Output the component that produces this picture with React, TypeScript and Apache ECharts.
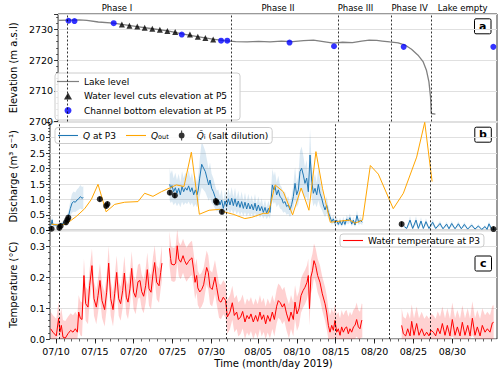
import React, { useEffect, useRef } from "react";
import * as echarts from "echarts";

const FONT = "DejaVu Sans";

// x values are days counted from 30 June 2019 (07/10 = 10, 08/05 = 36)
const X_MIN = 9.23;
const X_MAX = 66.75;
const TICK_DAYS = [10, 15, 20, 25, 30, 36, 41, 46, 51, 56, 61];
const TICK_LABELS = ["07/10", "07/15", "07/20", "07/25", "07/30", "08/05", "08/10", "08/15", "08/20", "08/25", "08/30"];
const MINOR_DAYS = Array.from({ length: 57 }, (_, i) => 10 + i);

const PHASE_BOUNDS = [10.42, 31.97, 46.0, 52.9, 58.17];
const PHASE_NAMES = ["Phase I", "Phase II", "Phase III", "Phase IV", "Lake empty"];
const PHASE_LABEL_X = [16.95, 38.05, 48.2, 55.3, 62.25];

// Panel a
const LAKE_LEVEL = [[9.23, 2732.9], [10.5, 2733.0], [12.0, 2733.1], [13.0, 2732.9], [14.5, 2732.4], [16.5, 2732.0], [17.6, 2731.6], [19.6, 2730.9], [21.6, 2730.2], [23.6, 2729.5], [25.5, 2728.5], [27.5, 2727.6], [29.5, 2726.8], [31.0, 2726.3], [32.5, 2726.0], [34.0, 2725.9], [35.5, 2726.1], [37.0, 2725.9], [38.5, 2726.2], [40.0, 2726.0], [41.4, 2726.3], [42.7, 2726.5], [44.0, 2726.0], [45.3, 2725.5], [46.5, 2725.8], [47.8, 2725.7], [49.0, 2726.2], [50.0, 2726.5], [51.0, 2726.4], [51.7, 2726.2], [52.7, 2725.9], [53.8, 2725.6], [54.7, 2724.9], [55.55, 2723.5], [56.4, 2721.6], [57.06, 2719.5], [57.5, 2716.7], [57.83, 2712.9], [58.04, 2708.0], [58.13, 2702.6], [58.68, 2702.4]];
const WATER_CUTS = [[17.59, 2731.6], [18.58, 2731.2], [19.61, 2730.9], [20.58, 2730.5], [21.58, 2730.2], [22.57, 2729.9], [23.55, 2729.5], [24.58, 2729.1], [26.51, 2728.3], [27.54, 2727.6], [28.53, 2727.2], [29.56, 2726.7]];
const CHANNEL_BOTTOM = [[10.6, 2732.8], [11.38, 2732.7], [16.52, 2732.0], [25.44, 2728.3], [30.59, 2726.3], [31.4, 2726.3], [39.56, 2725.7], [45.39, 2724.5], [54.52, 2724.3], [66.27, 2724.3]];

// Panel b
const Q_P3_1 = [[9.23, 0.18], [9.4, 0.19], [9.5, 0.34], [9.6, 0.18], [10.0, 0.17], [10.47, 0.17], [10.9, 0.22], [11.33, 0.31], [11.63, 0.48], [11.85, 0.71], [12.06, 0.88], [12.27, 0.93], [12.49, 0.91], [12.7, 0.98], [12.92, 1.02], [13.13, 1.09], [13.35, 1.04], [13.52, 1.06]];
const Q_P3_2 = [[24.63, 1.49], [24.76, 1.36], [24.93, 1.45], [25.14, 1.25], [25.36, 1.38], [25.57, 1.2], [25.79, 1.36], [26.0, 1.15], [26.22, 1.42], [26.43, 1.25], [26.65, 1.38], [26.86, 1.3], [27.07, 1.44], [27.29, 1.25], [27.5, 1.38], [27.72, 1.15], [27.93, 1.31], [28.15, 1.15], [28.3, 1.3], [28.49, 1.69], [28.75, 2.14], [29.0, 2.01], [29.22, 1.9], [29.43, 1.69], [29.65, 1.47], [29.82, 1.63], [30.03, 1.36], [30.25, 1.25], [30.46, 1.09], [30.68, 0.95], [30.89, 0.98], [31.1, 0.82], [31.32, 0.98], [31.53, 0.71], [31.75, 0.95], [31.96, 0.77], [32.18, 1.02], [32.39, 0.82], [32.61, 1.04], [32.82, 0.8], [33.04, 1.02], [33.25, 0.77], [33.46, 0.95], [33.68, 0.74], [33.89, 0.93], [34.11, 0.71], [34.32, 0.91], [34.54, 0.69], [34.75, 0.88], [34.97, 0.69], [35.18, 0.84], [35.39, 0.66], [35.61, 0.88], [35.82, 0.63], [36.04, 0.82], [36.25, 0.63], [36.47, 0.77], [36.68, 0.58], [36.9, 0.74], [37.11, 0.55], [37.33, 0.71], [37.54, 0.58], [37.84, 1.47], [38.05, 1.31], [38.18, 1.42], [38.4, 1.15], [38.61, 1.31], [38.83, 1.09], [39.04, 1.04], [39.25, 0.88], [39.47, 0.93], [39.68, 0.77], [39.9, 0.82], [40.11, 0.66], [40.33, 0.84], [40.54, 1.09], [40.76, 1.52], [40.97, 1.15], [41.19, 1.31], [41.4, 1.9], [41.61, 2.01], [41.83, 1.79], [42.04, 1.52], [42.26, 1.69], [42.47, 1.25], [42.69, 2.44], [42.9, 1.63], [43.12, 1.2], [43.33, 1.36], [43.55, 1.15], [43.76, 1.49], [43.97, 1.2], [44.19, 1.04], [44.4, 0.82], [44.62, 0.66], [44.83, 0.82], [45.05, 0.58], [45.26, 0.44], [45.48, 0.28], [45.69, 0.37], [45.9, 0.23], [46.12, 0.33], [46.33, 0.19], [46.55, 0.31], [46.76, 0.17], [46.98, 0.33], [47.19, 0.19], [47.4, 0.37], [47.62, 0.3], [47.83, 0.41], [48.05, 0.2], [48.26, 0.33], [48.48, 0.17], [48.73, 0.48], [48.95, 0.26], [49.16, 0.33], [49.42, 0.26]];
const Q_P3_3 = [[54.83, 0.12], [55.13, 0.06], [55.56, 0.33], [55.9, 0.06], [56.33, 0.33], [56.63, 0.06], [56.97, 0.3], [57.27, 0.06], [57.61, 0.28], [58.0, 0.06], [58.47, 0.26], [58.86, 0.06], [59.42, 0.22], [59.8, 0.05], [60.27, 0.2], [60.57, 0.05], [60.92, 0.22], [61.35, 0.05], [61.78, 0.21], [62.16, 0.05], [62.55, 0.19], [62.98, 0.04], [63.49, 0.17], [63.92, 0.04], [64.35, 0.14], [64.78, 0.03], [65.21, 0.12], [65.47, 0.03], [65.72, 0.21], [66.07, 0.03], [66.5, 0.04]];
const Q_REL_UNCERTAINTY = [0.35, 0.35, 0.4];
const Q_OUT = [[9.4, 0.2], [10.47, 0.17], [11.12, 0.2], [11.55, 0.25], [12.62, 0.45], [13.69, 0.7], [14.55, 1.0], [15.41, 1.49], [16.45, 0.6], [17.55, 0.84], [18.84, 0.91], [20.55, 0.93], [21.41, 1.2], [22.48, 1.1], [23.56, 1.25], [25.49, 1.47], [26.47, 1.42], [27.42, 2.53], [28.45, 0.52], [29.7, 0.65], [31.1, 0.68], [31.6, 0.6], [32.8, 0.52], [34.3, 0.38], [35.2, 0.42], [36.68, 0.55], [37.33, 0.55], [38.2, 1.47], [39.25, 1.25], [40.45, 0.5], [41.55, 1.37], [42.55, 0.65], [43.45, 2.55], [44.3, 1.35], [45.3, 0.26], [46.6, 0.3], [47.84, 0.33], [48.48, 0.23], [49.45, 0.33], [50.45, 2.1], [51.48, 1.82], [53.4, 0.7], [54.7, 1.2], [56.41, 2.37], [57.45, 3.5], [58.4, 1.58]];
const SALT_DILUTION = [[9.44, 0.05], [10.43, 0.08], [10.6, 0.14], [11.29, 0.26], [11.46, 0.34], [11.59, 0.41], [15.64, 1.01], [16.46, 0.79], [16.62, 0.85], [24.65, 1.22], [25.3, 1.13], [30.57, 0.95], [30.68, 0.9], [31.35, 0.6], [54.48, 0.2], [66.3, 0.04]];
const SALT_ERR = 0.08;

// Panel c
const TEMP_1 = [[9.31, 0.033], [9.61, 0.022], [10.04, 0.01], [10.34, 0.067], [10.5, 0.022], [10.69, 0.044], [10.9, 0.006], [11.2, 0.003], [11.54, 0.017], [11.89, 0.028], [12.19, 0.022], [12.49, 0.033], [12.75, 0.022], [12.92, 0.087], [13.13, 0.067], [13.35, 0.063], [13.6, 0.205], [13.82, 0.114], [14.12, 0.103], [14.33, 0.172], [14.63, 0.237], [14.89, 0.13], [15.19, 0.103], [15.41, 0.14], [15.66, 0.189], [15.92, 0.124], [16.26, 0.095], [16.52, 0.151], [16.78, 0.245], [17.04, 0.13], [17.34, 0.095], [17.55, 0.146], [17.81, 0.215], [18.07, 0.13], [18.32, 0.114], [18.58, 0.156], [18.8, 0.213], [19.05, 0.135], [19.27, 0.119], [19.52, 0.162], [19.74, 0.228], [19.99, 0.151], [20.25, 0.135], [20.55, 0.185], [20.81, 0.189], [21.03, 0.153], [21.28, 0.138], [21.54, 0.172], [21.75, 0.224], [21.97, 0.162], [22.23, 0.151], [22.48, 0.21], [22.7, 0.247], [22.96, 0.183], [23.26, 0.172], [23.47, 0.215], [23.64, 0.245]];
const TEMP_2 = [[24.6, 0.293], [24.75, 0.26], [24.85, 0.242], [25.2, 0.239], [25.4, 0.245], [25.6, 0.301], [25.8, 0.258], [26.05, 0.248], [26.35, 0.269], [26.55, 0.253], [26.8, 0.24], [27.05, 0.25], [27.3, 0.258], [27.5, 0.262], [27.7, 0.226], [27.9, 0.183], [28.1, 0.205], [28.25, 0.165], [28.5, 0.152], [28.75, 0.16], [29.0, 0.175], [29.2, 0.205], [29.39, 0.231], [29.6, 0.215], [29.82, 0.167], [30.1, 0.16], [30.46, 0.2], [30.68, 0.167], [30.98, 0.124], [31.23, 0.119], [31.53, 0.135], [31.83, 0.124], [32.05, 0.071], [32.39, 0.087], [32.69, 0.117], [32.95, 0.076], [33.25, 0.087], [33.46, 0.063], [33.76, 0.071], [34.02, 0.089], [34.32, 0.055], [34.58, 0.076], [34.84, 0.065], [35.09, 0.081], [35.39, 0.055], [35.69, 0.076], [35.95, 0.057], [36.25, 0.087], [36.47, 0.063], [36.72, 0.078], [36.98, 0.049], [37.24, 0.076], [37.54, 0.057], [37.84, 0.087], [38.1, 0.063], [38.4, 0.106], [38.61, 0.124], [38.87, 0.117], [39.13, 0.103], [39.38, 0.114], [39.68, 0.081], [39.98, 0.057], [40.24, 0.087], [40.54, 0.063], [40.76, 0.119], [41.01, 0.081], [41.27, 0.098], [41.53, 0.14], [41.79, 0.156], [42.04, 0.167], [42.3, 0.183], [42.47, 0.205], [42.62, 0.098], [42.8, 0.2], [43.0, 0.22], [43.2, 0.253], [43.42, 0.237], [43.67, 0.205], [43.97, 0.183], [44.27, 0.146], [44.62, 0.114], [44.83, 0.087], [45.05, 0.044], [45.26, 0.022], [45.48, 0.044], [45.69, 0.028], [45.9, 0.06], [46.12, 0.022], [46.33, 0.033], [46.55, 0.012], [46.76, 0.039], [46.98, 0.022], [47.2, 0.035], [47.4, 0.039], [47.62, 0.017], [47.83, 0.033], [48.05, 0.022], [48.3, 0.04], [48.48, 0.044], [48.69, 0.063], [48.91, 0.039], [49.12, 0.033], [49.34, 0.06], [49.42, 0.058]];
const TEMP_3 = [[54.48, 0.044], [54.7, 0.017], [55.0, 0.01], [55.26, 0.033], [55.56, 0.01], [55.77, 0.057], [56.07, 0.012], [56.41, 0.05], [56.71, 0.012], [57.06, 0.033], [57.4, 0.01], [57.7, 0.022], [58.0, 0.01], [58.26, 0.028], [58.56, 0.022], [58.86, 0.01], [59.12, 0.035], [59.42, 0.017], [59.72, 0.05], [60.06, 0.012], [60.36, 0.044], [60.7, 0.01], [61.0, 0.063], [61.35, 0.012], [61.65, 0.039], [61.99, 0.01], [62.29, 0.054], [62.63, 0.012], [62.98, 0.044], [63.28, 0.01], [63.58, 0.067], [63.92, 0.012], [64.22, 0.039], [64.57, 0.01], [64.86, 0.044], [65.21, 0.022], [65.51, 0.033], [65.85, 0.022], [66.15, 0.052], [66.32, 0.054]];
const TEMP_UNCERTAINTY = 0.055;

const Q_NAME = "Q at P3";
const QOUT_NAME = "Qout";
const QI_NAME = "Qi";
const T_NAME = "Water temperature at P3";

const LEGEND_LABELS: Record<string, string> = {
  [Q_NAME]: "{it|Q} at P3",
  [QOUT_NAME]: "{it|Q}{sub|out}",
  [QI_NAME]: "{it|Q\u0304}{sub|i} (salt dilution)",
};

const LINE_ICON = "path://M0,0H40V2.2H0Z";

function bandSeries(seg: number[][], lo: (v: number) => number, hi: (v: number) => number, gridIdx: number, color: string) {
  return {
    type: "custom",
    xAxisIndex: gridIdx,
    yAxisIndex: gridIdx,
    data: seg,
    encode: { x: 0, y: 1 },
    clip: true,
    silent: true,
    z: 1,
    renderItem: (params: any, api: any) => {
      if (params.dataIndex !== 0) return null;
      const up = seg.map((p) => api.coord([p[0], hi(p[1])]));
      const down = seg.map((p) => api.coord([p[0], lo(p[1])])).reverse();
      return { type: "polygon", shape: { points: up.concat(down) }, style: { fill: color } };
    },
  };
}

const phaseMarkLine = {
  symbol: ["none", "none"],
  silent: true,
  label: { show: false },
  lineStyle: { color: "#000", type: [2, 2], width: 0.8 },
  data: PHASE_BOUNDS.map((x) => ({ xAxis: x })),
};

function yAxisBase(gridIdx: number, min: number, max: number, interval: number, name: string, nameGap: number, digits: number) {
  return {
    gridIndex: gridIdx,
    type: "value",
    min,
    max,
    interval,
    name,
    nameLocation: "middle",
    nameRotate: 90,
    nameGap,
    nameTextStyle: { fontSize: 10, color: "#000", fontFamily: FONT },
    axisLine: { show: false },
    axisTick: { show: true, length: 4, lineStyle: { color: "#000", width: 0.8 } },
    minorTick: { show: true, splitNumber: 5, length: 2, lineStyle: { color: "#000", width: 0.6 } },
    axisLabel: { fontSize: 9.5, color: "#000", fontFamily: FONT, margin: 5, showMaxLabel: false, formatter: (v: number) => v.toFixed(digits) },
    splitLine: { show: true, lineStyle: { color: "#e0e0e0", width: 1.2 } },
  };
}

function hiddenX(gridIdx: number) {
  return { gridIndex: gridIdx, type: "value", min: X_MIN, max: X_MAX, show: false, position: "bottom" };
}

export default function App() {
  const ref = useRef<HTMLDivElement>(null);
  useEffect(() => {
    if (!ref.current) return;
    const chart = echarts.init(ref.current, null, { renderer: "svg" });
    const qBands = [Q_P3_1, Q_P3_2, Q_P3_3].map((seg, i) =>
      bandSeries(seg, (v) => Math.max(0, v * (1 - Q_REL_UNCERTAINTY[i])), (v) => v * (1 + Q_REL_UNCERTAINTY[i]), 1, "rgba(31,119,180,0.16)")
    );
    const tBands = [TEMP_1, TEMP_2, TEMP_3].map((seg) =>
      bandSeries(seg, (v) => Math.max(0, v - TEMP_UNCERTAINTY), (v) => v + TEMP_UNCERTAINTY, 2, "rgba(255,0,0,0.18)")
    );
    const option: any = {
      animation: false,
      textStyle: { fontFamily: FONT },
      grid: [
        { left: 50, top: 14, width: 447, height: 107.5, show: true, borderColor: "#000", borderWidth: 0.8, backgroundColor: "transparent" },
        { left: 50, top: 122.3, width: 447, height: 108, show: true, borderColor: "#000", borderWidth: 0.8, backgroundColor: "transparent" },
        { left: 50, top: 230.6, width: 447, height: 108.4, show: true, borderColor: "#000", borderWidth: 0.8, backgroundColor: "transparent" },
      ],
      xAxis: [
        hiddenX(0),
        hiddenX(1),
        {
          gridIndex: 2, type: "value", min: X_MIN, max: X_MAX, position: "bottom",
          name: "Time (month/day 2019)", nameLocation: "middle", nameGap: 19,
          nameTextStyle: { fontSize: 10, color: "#000", fontFamily: FONT },
          axisLine: { show: false, onZero: false },
          splitLine: { show: false },
          axisTick: { show: true, customValues: TICK_DAYS, length: 4.5, lineStyle: { color: "#000", width: 0.8 } },
          axisLabel: {
            customValues: TICK_DAYS, fontSize: 9.5, color: "#000", fontFamily: FONT, margin: 7,
            formatter: (v: number) => TICK_LABELS[TICK_DAYS.indexOf(v)] ?? "",
          },
        },
        {
          gridIndex: 2, type: "value", min: X_MIN, max: X_MAX, position: "bottom",
          axisLine: { show: false, onZero: false },
          splitLine: { show: false },
          axisLabel: { show: false },
          axisTick: { show: true, customValues: MINOR_DAYS, length: 2.5, lineStyle: { color: "#000", width: 0.6 } },
        },
        {
          gridIndex: 0, type: "value", min: X_MIN, max: X_MAX, position: "top",
          axisLine: { show: false, onZero: false },
          splitLine: { show: false },
          axisTick: { show: false },
          axisLabel: {
            customValues: PHASE_LABEL_X, fontSize: 8.5, color: "#000", fontFamily: FONT, margin: 2,
            formatter: (v: number) => PHASE_NAMES[PHASE_LABEL_X.indexOf(v)] ?? "",
          },
        },
      ],
      yAxis: [
        yAxisBase(0, 2700, 2735, 10, "Elevation (m a.s.l)", 39, 0),
        yAxisBase(1, 0, 3.5, 0.5, "Discharge (m\u00b3 s\u207b\u00b9)", 24, 1),
        yAxisBase(2, 0, 0.35, 0.1, "Temperature (\u00b0C)", 24, 1),
      ],
      legend: [
        {
          orient: "vertical", left: 55, top: 73,
          data: [
            { name: "Lake level", icon: LINE_ICON },
            { name: "Water level cuts elevation at P5", icon: "path://M5,0L10,8.66L0,8.66Z" },
            { name: "Channel bottom elevation at P5", icon: "circle" },
          ],
          itemWidth: 22, itemHeight: 7, itemGap: 3.5, padding: [3, 13, 4, 2],
          borderColor: "#cccccc", borderWidth: 1, borderRadius: 3, backgroundColor: "rgba(255,255,255,0.85)",
          textStyle: { fontSize: 9, fontFamily: FONT, color: "#000", lineHeight: 11 },
          selectedMode: false,
        },
        {
          orient: "horizontal", left: 55, top: 127.5,
          data: [
            { name: Q_NAME, icon: LINE_ICON },
            { name: QOUT_NAME, icon: LINE_ICON },
            { name: QI_NAME, icon: "path://M4.4,1H5.6V13H4.4Z M8.5,7A3.5,3.5,0,1,1,1.5,7A3.5,3.5,0,1,1,8.5,7Z" },
          ],
          itemWidth: 20, itemHeight: 10, itemGap: 10, padding: [3, 4, 3, 3],
          borderColor: "#cccccc", borderWidth: 1, borderRadius: 3, backgroundColor: "rgba(255,255,255,0.85)",
          formatter: (n: string) => LEGEND_LABELS[n] ?? n,
          textStyle: {
            fontSize: 9, fontFamily: FONT, color: "#000",
            rich: {
              it: { fontStyle: "italic", fontSize: 9, fontFamily: FONT, color: "#000" },
              sub: { fontSize: 6.5, fontFamily: FONT, color: "#000", verticalAlign: "bottom" },
            },
          },
          selectedMode: false,
        },
        {
          orient: "horizontal", left: 340, top: 234,
          data: [{ name: T_NAME, icon: LINE_ICON }],
          itemWidth: 20, itemHeight: 8, padding: [2, 4, 2, 3],
          borderColor: "#cccccc", borderWidth: 1, borderRadius: 3, backgroundColor: "rgba(255,255,255,0.85)",
          textStyle: { fontSize: 9, fontFamily: FONT, color: "#000" },
          selectedMode: false,
        },
      ],
      series: [
        {
          name: "Lake level", type: "line", xAxisIndex: 0, yAxisIndex: 0, data: LAKE_LEVEL,
          symbol: "none", lineStyle: { color: "#808080", width: 1.3 }, itemStyle: { color: "#808080" },
          markLine: phaseMarkLine, z: 2,
        },
        {
          name: "Water level cuts elevation at P5", type: "scatter", xAxisIndex: 0, yAxisIndex: 0, data: WATER_CUTS,
          symbol: "triangle", symbolSize: 6, itemStyle: { color: "#000" }, z: 3,
        },
        {
          name: "Channel bottom elevation at P5", type: "scatter", xAxisIndex: 0, yAxisIndex: 0, data: CHANNEL_BOTTOM,
          symbol: "circle", symbolSize: 6, itemStyle: { color: "#0000ff" }, z: 3,
        },
        ...qBands,
        ...[Q_P3_1, Q_P3_2, Q_P3_3].map((seg) => ({
          name: Q_NAME, type: "line", xAxisIndex: 1, yAxisIndex: 1, data: seg,
          symbol: "none", lineStyle: { color: "#1f77b4", width: 1 }, itemStyle: { color: "#1f77b4" }, z: 3,
        })),
        {
          name: QOUT_NAME, type: "line", xAxisIndex: 1, yAxisIndex: 1, data: Q_OUT,
          symbol: "none", lineStyle: { color: "#ffa500", width: 1 }, itemStyle: { color: "#ffa500" }, z: 4,
          markLine: phaseMarkLine,
        },
        {
          type: "custom", xAxisIndex: 1, yAxisIndex: 1, data: SALT_DILUTION, encode: { x: 0, y: 1 }, silent: true, z: 5,
          renderItem: (_p: any, api: any) => {
            const x = api.value(0);
            const y = api.value(1);
            const a = api.coord([x, Math.max(0, y - SALT_ERR)]);
            const b = api.coord([x, y + SALT_ERR]);
            return { type: "line", shape: { x1: a[0], y1: a[1], x2: b[0], y2: b[1] }, style: { stroke: "#000", lineWidth: 1.2 } };
          },
        },
        {
          name: QI_NAME, type: "scatter", xAxisIndex: 1, yAxisIndex: 1, data: SALT_DILUTION,
          symbol: "circle", symbolSize: 6, itemStyle: { color: "#000" }, z: 6,
        },
        ...tBands,
        ...[TEMP_1, TEMP_2, TEMP_3].map((seg, i) => ({
          name: T_NAME, type: "line", xAxisIndex: 2, yAxisIndex: 2, data: seg,
          symbol: "none", lineStyle: { color: "#ff0000", width: 1 }, itemStyle: { color: "#ff0000" }, z: 3,
          ...(i === 0 ? { markLine: phaseMarkLine } : {}),
        })),
      ],
      graphic: [
        ...[["a", 474, 18.3], ["b", 474.3, 126.7], ["c", 474.5, 255.5]].map(([t, x, y]) => ({
          type: "group", left: x as number, top: y as number, z: 100,
          children: [
            { type: "rect", shape: { x: 0, y: 0, width: 16.5, height: 15, r: 1.5 }, style: { fill: "#fff", stroke: "#000", lineWidth: 1 } },
            { type: "text", x: 8.25, y: 7.5, style: { text: t as string, fontSize: 11, fontWeight: "bold", fontFamily: FONT, fill: "#000", align: "center", verticalAlign: "middle" } },
          ],
        })),
      ],
    };
    chart.setOption(option);
    return () => chart.dispose();
  }, []);
  return <div ref={ref} style={{ position: "absolute", left: 0, top: 0, width: 500, height: 374 }} />;
}
